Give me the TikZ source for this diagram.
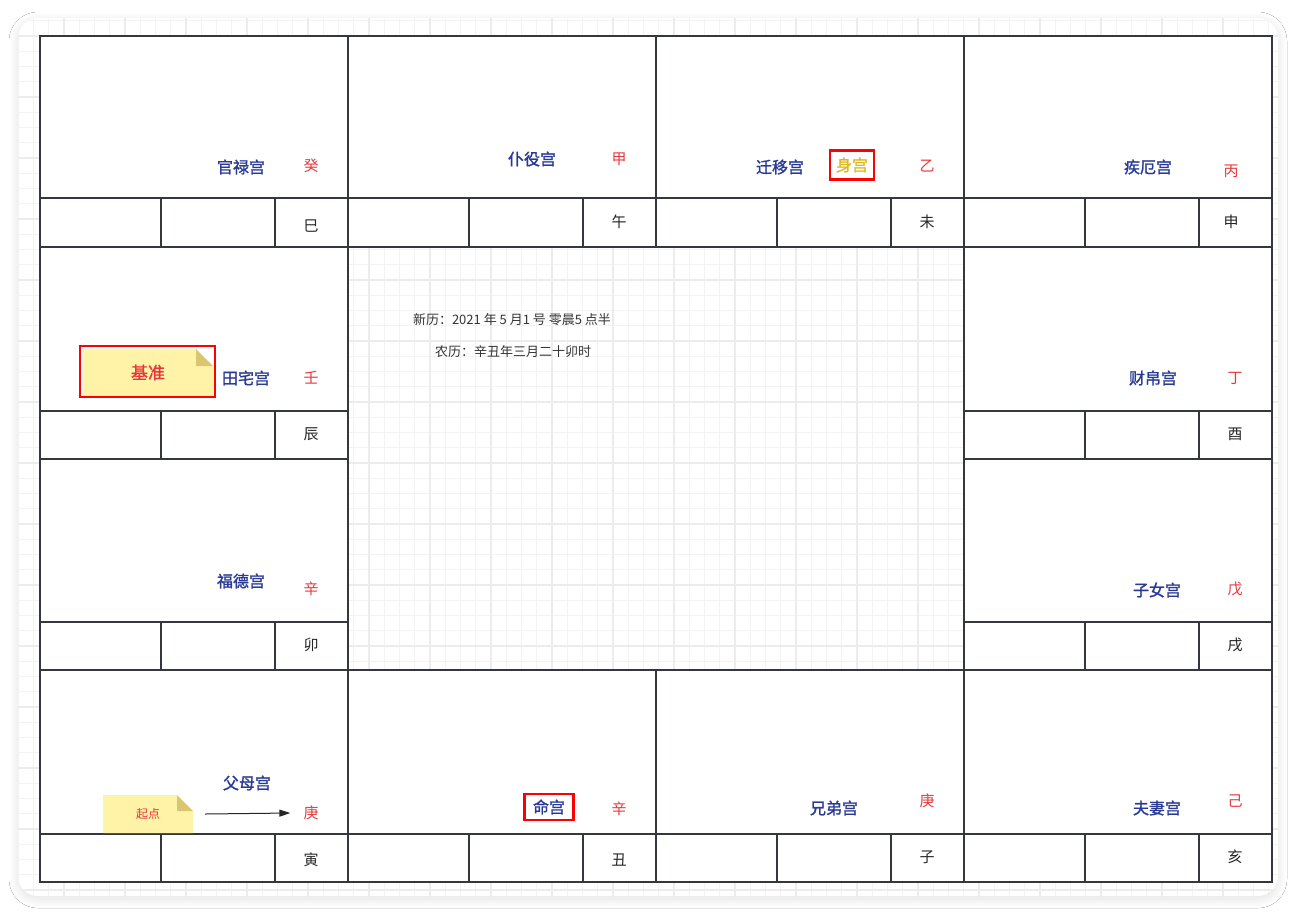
\documentclass[tikz,border=0pt]{standalone}
\usepackage{fontspec}
\setmainfont{Noto Sans CJK SC}
\newfontfamily\palacefont{Noto Sans CJK SC}[FakeBold=1.4]
\usetikzlibrary{arrows.meta, shadows.blur}

\definecolor{palaceblue}{RGB}{40,58,150}
\definecolor{stemred}{RGB}{230,56,60}
\definecolor{framered}{RGB}{255,0,0}
\definecolor{bodyyellow}{RGB}{222,184,30}
\definecolor{notefill}{RGB}{255,243,168}
\definecolor{notefold}{RGB}{218,198,112}
\definecolor{linegray}{RGB}{52,56,60}
\definecolor{minorgray}{RGB}{243,243,243}
\definecolor{majorgray}{RGB}{236,236,236}

\begin{document}
\begin{tikzpicture}[x=1pt, y=-1pt,
            line/.style={draw=linegray, line width=1.6pt},
            palace/.style={font=\palacefont\fontsize{16}{18}\selectfont, text=palaceblue, inner sep=1pt},
            stem/.style={font=\fontsize{15}{17}\selectfont, text=stemred, inner sep=1pt},
            branch/.style={font=\fontsize{15}{17}\selectfont, text=black!85, inner sep=1pt},
            info/.style={font=\fontsize{13}{15}\selectfont, text=black!80, inner sep=1pt},
            redframe/.style={draw=framered, line width=2.5pt},
            note/.style={inner sep=0pt, path picture={
                \fill[notefill] (path picture bounding box.south west) -- (path picture bounding box.north west)
                    -- ([xshift=-#1]path picture bounding box.north east) -- ([yshift=-#1]path picture bounding box.north east)
                    -- (path picture bounding box.south east) -- cycle;
                \fill[notefold] ([xshift=-#1]path picture bounding box.north east)
                    -- ([xshift=-#1, yshift=-#1]path picture bounding box.north east)
                    -- ([yshift=-#1]path picture bounding box.north east) -- cycle;}},
            arr/.style={-{Triangle[length=11pt, width=7pt]}, line width=1pt, draw=black!85}]

            \useasboundingbox[fill=white] (0,0) rectangle (1296,914);

            % card with grid
            \fill[white, rounded corners=20pt, blur shadow={shadow xshift=0pt, shadow yshift=-3pt,
                  shadow blur radius=9pt, shadow blur steps=12, shadow opacity=12}]
                (18,18) rectangle (1278,896);
            \begin{scope}
                \clip[rounded corners=20pt] (18,18) rectangle (1278,896);
                \begin{scope}[shift={(3,36)}]
                    \draw[minorgray, line width=1pt] (-61,-61) grid[step=15.25pt] (1342,915);
                    \draw[majorgray, line width=1.2pt] (-61,-61) grid[step=61pt] (1342,915);
                \end{scope}
            \end{scope}

            % palace cells
            \fill[white] (40,36) rectangle (1272,247);
            \fill[white] (40,670) rectangle (1272,882);
            \fill[white] (40,247) rectangle (348,670);
            \fill[white] (964,247) rectangle (1272,670);

            \draw[line] (40,36) rectangle (1272,882);
            \draw[line] (40,198) -- (1272,198) (40,247) -- (1272,247)
                        (40,670) -- (1272,670) (40,834) -- (1272,834);
            \foreach \y in {411,459,622} {
                \draw[line] (40,\y) -- (348,\y) (964,\y) -- (1272,\y);
            }
            \draw[line] (348,36) -- (348,882) (964,36) -- (964,882)
                        (656,36) -- (656,247) (656,670) -- (656,882);
            % strip dividers
            \foreach \x in {40,348,656,964} {
                \draw[line] (\x+121,198) -- (\x+121,247) (\x+235,198) -- (\x+235,247);
                \draw[line] (\x+121,834) -- (\x+121,882) (\x+235,834) -- (\x+235,882);
            }
            \foreach \x in {40,964} {
                \foreach \y in {411,622} {
                    \draw[line] (\x+121,\y) -- (\x+121,\y+48) (\x+235,\y) -- (\x+235,\y+48);
                }
            }

            % top row
            \node[palace] (guanlu)   at (241,167) {官禄宫};
            \node[stem]   (stemgui)  at (311,166) {癸};
            \node[branch] (si)       at (311,226) {巳};
            \node[palace] (puyi)     at (532,159) {仆役宫};
            \node[stem]   (stemjia)  at (619,159) {甲};
            \node[branch] (wu)       at (619,222) {午};
            \node[palace] (qianyi)   at (780,167) {迁移宫};
            \node[palace, redframe, text=bodyyellow, minimum width=44pt, minimum height=29pt]
                          (shengong) at (852,165) {身宫};
            \node[stem]   (stemyi)   at (927,166) {乙};
            \node[branch] (wei)      at (927,222) {未};
            \node[palace] (jie)      at (1148,167) {疾厄宫};
            \node[stem]   (stembing) at (1231,171) {丙};
            \node[branch] (shen)     at (1231,222) {申};

            % left and right columns
            \node[note=17pt, minimum width=130pt, minimum height=47pt, text=stemred,
                  font=\palacefont\fontsize{17}{19}\selectfont] (jizhun) at (148,372.5) {基准};
            \draw[redframe] ([shift={(-3pt,3pt)}]jizhun.north west) rectangle ([shift={(2pt,-1pt)}]jizhun.south east);
            \node[palace] (tianzhai) at (246,378) {田宅宫};
            \node[stem]   (stemren)  at (311,378) {壬};
            \node[branch] (chen)     at (311,434) {辰};
            \node[palace] (caibo)    at (1153,378) {财帛宫};
            \node[stem]   (stemding) at (1235,378) {丁};
            \node[branch] (you)      at (1235,434) {酉};
            \node[palace] (fude)     at (241,581) {福德宫};
            \node[stem]   (stemxin)  at (311,589) {辛};
            \node[branch] (mao)      at (311,645) {卯};
            \node[palace] (zinv)     at (1157,590) {子女宫};
            \node[stem]   (stemwu)   at (1235,589) {戊};
            \node[branch] (xu)       at (1235,645) {戌};

            % bottom row
            \node[palace] (fumu)     at (247,783) {父母宫};
            \node[stem]   (stemgeng) at (311,813) {庚};
            \node[branch] (yin)      at (311,860) {寅};
            \node[note=16pt, minimum width=90pt, minimum height=38pt, text=stemred,
                  font=\fontsize{12}{14}\selectfont] (qidian) at (148,814) {起点};
            \node[palace, redframe, minimum width=49pt, minimum height=26pt] (ming) at (549,807) {命宫};
            \node[stem]   (stemxinb) at (619,809) {辛};
            \node[branch] (chou)     at (619,860) {丑};
            \node[palace] (xiongdi)  at (834,808) {兄弟宫};
            \node[stem]   (stemgengb) at (927,801) {庚};
            \node[branch] (zi)       at (927,857) {子};
            \node[palace] (fuqi)     at (1157,808) {夫妻宫};
            \node[stem]   (stemji)   at (1235,801) {己};
            \node[branch] (hai)      at (1235,857) {亥};

            \draw[arr] ([xshift=12pt]qidian.east) -- ([xshift=-12pt]stemgeng.west);

            % centre
            \node[info] (xinli)  at (512,320) {新历：2021 年 5 月1 号 零晨5 点半};
            \node[info] (nongli) at (513,352) {农历：辛丑年三月二十卯时};
        \end{tikzpicture}
\end{document}
